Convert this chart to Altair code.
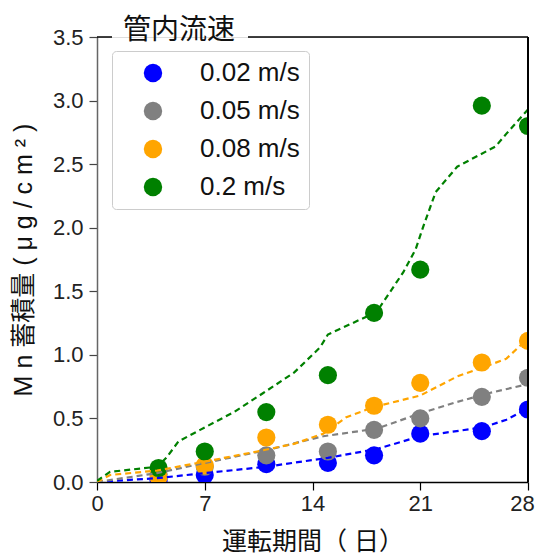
import altair as alt
import pandas as pd

# ---- data ----
series = ["0.02 m/s", "0.05 m/s", "0.08 m/s", "0.2 m/s"]
colors = ["#0000ff", "#808080", "#ffa500", "#008000"]

obs_days = [4, 7, 11, 15, 18, 21, 25, 28]
obs_blue = [0.015, 0.055, 0.14, 0.15, 0.21, 0.38, 0.40, 0.57]
obs_gray = [0.06, 0.12, 0.21, 0.24, 0.41, 0.50, 0.67, 0.82]
obs_orange = [0.04, 0.13, 0.35, 0.45, 0.60, 0.78, 0.94, 1.11]
obs_green = [0.11, 0.24, 0.55, 0.84, 1.33, 1.67, 2.96, 2.80]

line_blue_x = [0, 3.9, 7, 11, 15, 18.2, 21, 25.1, 26.6, 28]
line_blue_y = [0.0, 0.03, 0.07, 0.12, 0.19, 0.26, 0.36, 0.43, 0.49, 0.58]
line_gray_x = [0, 3.9, 7, 11, 14.7, 18.2, 21, 23.4, 25.5, 28]
line_gray_y = [0.0, 0.07, 0.15, 0.25, 0.36, 0.42, 0.54, 0.63, 0.70, 0.77]
line_orange_x = [0, 0.85, 3.9, 7, 10.4, 12.8, 14.7, 16.2, 18, 21, 23.4, 25.5, 26.6, 28]
line_orange_y = [0.0, 0.055, 0.09, 0.16, 0.24, 0.30, 0.38, 0.51, 0.59, 0.68, 0.83, 0.92, 0.97, 1.13]
line_green_x = [0, 0.85, 3.9, 4.5, 5.3, 6.7, 8.9, 10.8, 12.8, 14.5, 15.0, 17.5, 18.4,
                19.9, 20.7, 21.2, 22.0, 23.4, 25.9, 26.6, 28]
line_green_y = [0.01, 0.08, 0.12, 0.19, 0.32, 0.41, 0.55, 0.70, 0.86, 1.06, 1.16, 1.30, 1.38,
                1.65, 1.83, 2.01, 2.28, 2.48, 2.64, 2.74, 2.93]

x_ticks = [0, 7, 14, 21, 28]
y_ticks = [0, 0.5, 1.0, 1.5, 2.0, 2.5, 3.0, 3.5]

legend_title = "管内流速"
x_title = "運転期間（ 日）"
y_title = "M n 蓄積量 ( μ g / c m ² )"

# ---- tables ----
obs_vals = [obs_blue, obs_gray, obs_orange, obs_green]
pts_rows = []
for s, vals in zip(series, obs_vals):
    for d, v in zip(obs_days, vals):
        pts_rows.append({"series": s, "day": d, "value": v})
pts = pd.DataFrame(pts_rows)

lines_xy = [(line_blue_x, line_blue_y), (line_gray_x, line_gray_y),
            (line_orange_x, line_orange_y), (line_green_x, line_green_y)]
line_rows = []
for s, c, (xs, ys) in zip(series, colors, lines_xy):
    for i, (d, v) in enumerate(zip(xs, ys)):
        line_rows.append({"series": s, "hex": c, "idx": i, "day": d, "value": v})
lines = pd.DataFrame(line_rows)

W, H = 431, 445
FONT = "Liberation Sans"
CJK = "Liberation Sans, Noto Sans CJK JP"

x_enc = alt.X("day:Q", scale=alt.Scale(domain=[0, 28], nice=False, zero=False),
              axis=alt.Axis(values=x_ticks, title=x_title, titleFont=CJK, titleFontSize=25,
                            titleFontWeight="normal", titleColor="#111", titlePadding=15,
                            labelFont=FONT, labelFontSize=22, labelColor="#222",
                            labelPadding=3, labelFlush=False,
                            labelOffset=alt.ExprRef(expr="datum.value == 28 ? -6 : 0"),
                            tickSize=8, tickColor="black",
                            tickWidth=1.2, domainColor="black", domainWidth=1.5, grid=False))
y_enc = alt.Y("value:Q", scale=alt.Scale(domain=[0, 3.5], nice=False),
              axis=alt.Axis(values=y_ticks, format=".1f", title=y_title, titleFont=CJK,
                            titleFontSize=25, titleFontWeight="normal", titleColor="#111",
                            titlePadding=16, labelFont=FONT, labelFontSize=22,
                            labelColor="#222", labelPadding=6, labelFlush=False, tickSize=8,
                            tickColor="#444", tickWidth=1.2, domainColor="#666",
                            domainWidth=1.5, grid=False))

points = alt.Chart(pts).mark_circle(size=330, opacity=1, clip=True).encode(
    x=x_enc,
    y=y_enc,
    color=alt.Color("series:N", sort=series,
                    scale=alt.Scale(domain=series, range=colors),
                    legend=alt.Legend(title=None, orient="none", legendX=15, legendY=14,
                                      symbolType="circle", symbolSize=340,
                                      symbolStrokeWidth=0, symbolOpacity=1,
                                      labelFont=FONT, labelFontSize=26, labelColor="#111",
                                      padding=9, rowPadding=12, symbolOffset=19,
                                      labelOffset=34, strokeColor="#cccccc",
                                      fillColor="white", cornerRadius=4)),
)

dash_lines = alt.Chart(lines).mark_line(strokeDash=[6, 4], strokeWidth=2.2, clip=True).encode(
    x="day:Q",
    y="value:Q",
    color=alt.Color("hex:N", scale=None),
    detail="series:N",
    order="idx:Q",
)

dummy = alt.Data(values=[{}])
top_left = alt.Chart(dummy).mark_rule(color="black", strokeWidth=1.5).encode(
    x=alt.value(0), x2=alt.value(15), y=alt.value(0))
top_right = alt.Chart(dummy).mark_rule(color="black", strokeWidth=1.5).encode(
    x=alt.value(151), x2=alt.value(W), y=alt.value(0))
right = alt.Chart(dummy).mark_rule(color="black", strokeWidth=2).encode(
    x=alt.value(W), y=alt.value(0), y2=alt.value(H))
title_txt = alt.Chart(dummy).mark_text(
    text=legend_title, font="Noto Sans CJK JP", fontSize=28, color="#111",
    align="center", baseline="middle").encode(x=alt.value(82), y=alt.value(-6))

chart = alt.layer(points, dash_lines, top_left, top_right, right, title_txt).properties(
    width=W, height=H,
    autosize=alt.AutoSizeParams(type="none"),
    padding={"left": 89, "top": 29, "right": 7, "bottom": 72},
).configure_view(stroke=None).configure(background="white")

chart.save("out.html", embed_options={"renderer": "svg", "actions": False})
